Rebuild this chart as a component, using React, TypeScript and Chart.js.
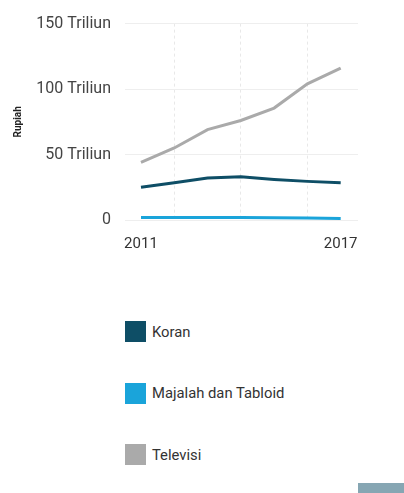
import React, { useEffect, useRef } from "react";
import { Chart, registerables } from "chart.js";
Chart.register(...registerables);

const years = [2011, 2012, 2013, 2014, 2015, 2016, 2017];
const koran = [25, 28.5, 32, 33, 31, 29.5, 28.5];
const majalah = [2, 2, 2, 2, 1.8, 1.5, 1.2];
const televisi = [44, 55, 69, 76, 85.5, 104, 116];
const yTicks = [0, 50, 100, 150];
const xLabelYears = [2011, 2017];
const xGridYears = [2012, 2014, 2016];

const seriesNames = ["Koran", "Majalah dan Tabloid", "Televisi"];
const seriesColors = ["#0e4e66", "#1aa4da", "#aaaaaa"];
const seriesData = [koran, majalah, televisi];

const font = "Roboto, 'Noto Sans', sans-serif";

export default function App() {
  const ref = useRef<HTMLCanvasElement>(null);
  useEffect(() => {
    if (!ref.current) return;
    const chart = new Chart(ref.current, {
      type: "line",
      data: {
        datasets: seriesNames.map((name, i) => ({
          label: name,
          data: years.map((y, j) => ({ x: y, y: seriesData[i][j] })),
          borderColor: seriesColors[i],
          backgroundColor: seriesColors[i],
          borderWidth: 3,
          pointRadius: 0,
          tension: 0,
        })),
      },
      options: {
        animation: false,
        responsive: false,
        layout: { padding: { top: 10, right: 46, left: 8, bottom: 0 } },
        plugins: { legend: { display: false }, tooltip: { enabled: false } },
        scales: {
          x: {
            type: "linear",
            min: 2010.52,
            max: 2017.52,
            afterBuildTicks: (s: any) => {
              s.ticks = [...xLabelYears, ...xGridYears]
                .sort((a, b) => a - b)
                .map((v) => ({ value: v }));
            },
            ticks: {
              autoSkip: false,
              maxRotation: 0,
              color: "#333",
              font: { family: font, size: 15 },
              padding: 15,
              callback: (v: any) => (xLabelYears.includes(Number(v)) ? String(v) : ""),
            },
            grid: {
              color: (c: any) =>
                c.tick && xGridYears.includes(c.tick.value) ? "#e8e8e8" : "rgba(0,0,0,0)",
              tickLength: 0,
              drawTicks: false,
            },
            border: { display: false, dash: [3, 3] },
            afterFit: (s: any) => {
              s.height = 40;
            },
          },
          y: {
            min: 0,
            max: 150,
            afterBuildTicks: (s: any) => {
              s.ticks = yTicks.map((v) => ({ value: v }));
            },
            ticks: {
              color: "#444",
              font: { family: font, size: 16 },
              padding: 14,
              callback: (v: any) => (Number(v) === 0 ? "0" : v + " Triliun"),
            },
            grid: { color: "#eeeeee", drawTicks: false, lineWidth: 1 },
            border: { display: false },
            title: {
              display: true,
              text: "Rupiah",
              color: "#222",
              font: { family: font, size: 10, weight: "bold" },
              padding: 4,
            },
            afterFit: (s: any) => {
              s.width = 117;
            },
          },
        },
      },
    });
    return () => chart.destroy();
  }, []);

  return (
    <div style={{ position: "absolute", left: 0, top: 0, width: 404, height: 493, background: "#fff", fontFamily: font }}>
      <canvas ref={ref} width={404} height={260} style={{ display: "block" }} />
      {seriesNames.map((name, i) => (
        <div
          key={name}
          style={{ position: "absolute", left: 125, top: 321 + i * 61.5, display: "flex", alignItems: "center", height: 21 }}
        >
          <div style={{ width: 21, height: 21, background: seriesColors[i] }} />
          <span style={{ marginLeft: 6, fontSize: 14.8, color: "#333" }}>{name}</span>
        </div>
      ))}
      <div style={{ position: "absolute", left: 358, top: 483, width: 46, height: 10, background: "#86a6b3" }} />
    </div>
  );
}
